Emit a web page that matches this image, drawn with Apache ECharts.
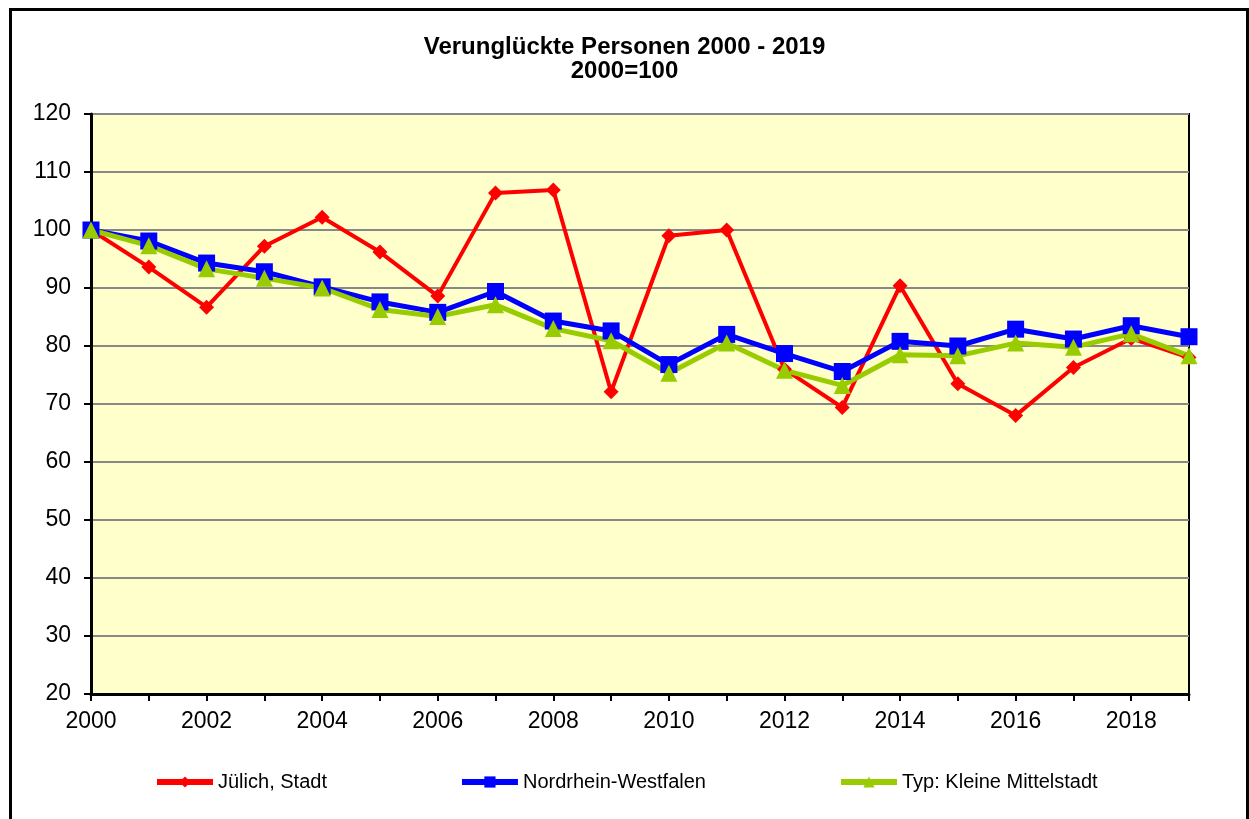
<!DOCTYPE html>
<html>
<head>
<meta charset="utf-8">
<script src="https://cdn.jsdelivr.net/npm/echarts@6/dist/echarts.min.js"></script>
<style>
  html, body { margin: 0; padding: 0; background: #fff; }
  #wrap { position: relative; width: 1249px; height: 819px; overflow: hidden; }
  #frame { position: absolute; left: 9px; top: 8px; width: 1240px; height: 830px; border: 3px solid #000; box-sizing: border-box; }
  #chart { position: absolute; left: 0; top: 0; width: 1249px; height: 819px; }
</style>
</head>
<body>
<div id="wrap">
  <div id="frame"></div>
  <div id="chart"></div>
</div>
<script>
const years = ['2000','2001','2002','2003','2004','2005','2006','2007','2008','2009',
               '2010','2011','2012','2013','2014','2015','2016','2017','2018','2019'];
const juelich = [100, 93.6, 86.7, 97.2, 102.2, 96.2, 88.6, 106.4, 106.9, 72.1,
                 99.0, 100.0, 76.0, 69.4, 90.4, 73.5, 68.0, 76.3, 81.3, 78.0];
const nrw = [100, 98.1, 94.3, 92.8, 90.2, 87.6, 85.8, 89.4, 84.3, 82.6,
             76.8, 82.0, 78.7, 75.6, 80.8, 80.0, 82.9, 81.2, 83.5, 81.6];
const mittelstadt = [100, 97.3, 93.3, 91.7, 90.0, 86.3, 85.1, 87.1, 83.0, 80.9,
                     75.3, 80.5, 75.8, 73.2, 78.5, 78.3, 80.5, 79.8, 82.1, 78.3];
const seriesNames = ['Jülich, Stadt', 'Nordrhein-Westfalen', 'Typ: Kleine Mittelstadt'];

const chart = echarts.init(document.getElementById('chart'));
const font = 'Arial, "Liberation Sans", sans-serif';

chart.setOption({
    animation: false,
    title: {
        text: 'Verunglückte Personen 2000 - 2019\n2000=100',
        left: 'center',
        top: 30,
        textStyle: { fontFamily: font, fontSize: 24, fontWeight: 'bold', color: '#000', lineHeight: 24 }
    },
    grid: {
        left: 91, right: 60, top: 114, bottom: 125,
        show: true, backgroundColor: '#FFFFCC', borderColor: '#000', borderWidth: 2
    },
    legend: {
        left: 149, top: 767,
        itemWidth: 56, itemHeight: 14, itemGap: 132,
        lineStyle: { width: 6 },
        textStyle: { fontFamily: font, fontSize: 20, color: '#000' },
        data: seriesNames
    },
    xAxis: {
        type: 'category',
        data: years,
        boundaryGap: false,
        axisLine: { lineStyle: { color: '#000', width: 3 } },
        axisTick: { show: true, interval: 0, length: 7, lineStyle: { color: '#000', width: 2 } },
        axisLabel: { interval: 1, margin: 16, fontFamily: font, fontSize: 23, color: '#000' },
        splitLine: { show: false }
    },
    yAxis: {
        type: 'value',
        min: 20, max: 120, interval: 10,
        axisLine: { show: true, lineStyle: { color: '#000', width: 3 } },
        axisTick: { show: true, length: 7, lineStyle: { color: '#000', width: 2 } },
        axisLabel: { margin: 20, fontFamily: font, fontSize: 23, color: '#000' },
        splitLine: { lineStyle: { color: '#888', width: 2 } }
    },
    series: [
        {
            name: seriesNames[0], type: 'line', data: juelich,
            symbol: 'diamond', symbolSize: 15,
            lineStyle: { color: '#FF0000', width: 4 },
            itemStyle: { color: '#FF0000' }
        },
        {
            name: seriesNames[1], type: 'line', data: nrw,
            symbol: 'rect', symbolSize: 17,
            lineStyle: { color: '#0000FF', width: 5 },
            itemStyle: { color: '#0000FF' }
        },
        {
            name: seriesNames[2], type: 'line', data: mittelstadt,
            symbol: 'triangle', symbolSize: 17,
            lineStyle: { color: '#99CC00', width: 5 },
            itemStyle: { color: '#99CC00' }
        }
    ]
});
</script>
</body>
</html>
